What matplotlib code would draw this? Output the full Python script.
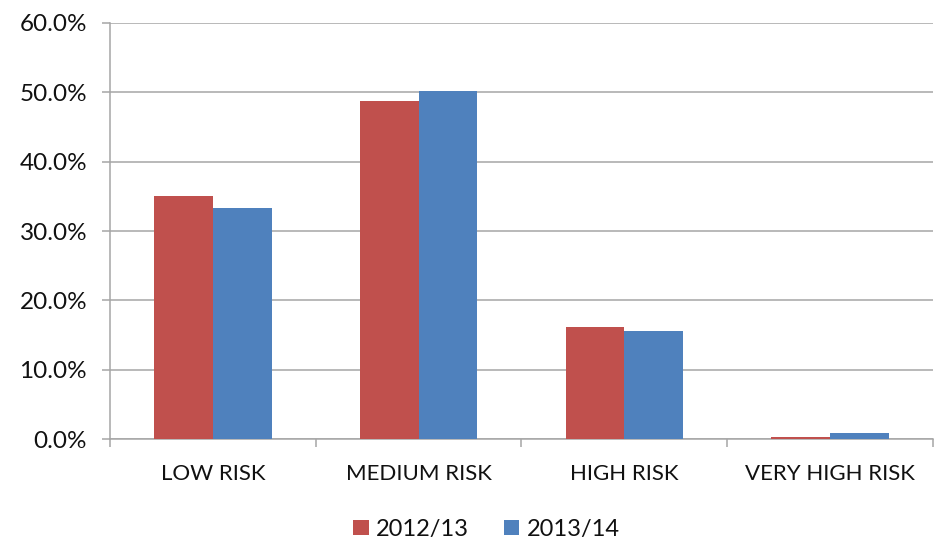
import numpy as np
import matplotlib
matplotlib.use("Agg")
import matplotlib.pyplot as plt
from matplotlib.ticker import FuncFormatter, FixedLocator

plt.rcParams['font.family'] = ['Lato', 'DejaVu Sans']

categories = ['LOW RISK', 'MEDIUM RISK', 'HIGH RISK', 'VERY HIGH RISK']
series_names = ['2012/13', '2013/14']
values_2012 = [35.0, 48.7, 16.1, 0.3]
values_2013 = [33.3, 50.2, 15.6, 0.9]

RED = '#C0504D'
BLUE = '#4F81BD'
GRID = '#A6A6A6'
TEXT = '#111111'

fig = plt.figure(figsize=(9.37, 5.41), dpi=100)
ax = fig.add_axes([0.1174, 0.1885, 0.8783, 0.769])

x = np.arange(len(categories))
width = 1 / 3.5  # two bars plus a 150% gap
ax.bar(x - width / 2, values_2012, width, color=RED, label=series_names[0], zorder=3)
ax.bar(x + width / 2, values_2013, width, color=BLUE, label=series_names[1], zorder=3)

ax.set_xlim(-0.5, len(categories) - 0.5)
ax.set_ylim(0, 60)
ax.set_yticks(np.arange(0, 61, 10))
ax.yaxis.set_major_formatter(FuncFormatter(lambda v, _: f'{v:.1f}%'))
ax.yaxis.grid(True, color=GRID, linewidth=1.1, zorder=0)

ax.set_xticks(x)
ax.set_xticklabels(categories)
ax.xaxis.set_minor_locator(FixedLocator(np.arange(-0.5, len(categories), 1.0)))
ax.tick_params(axis='x', which='major', length=0, pad=18, labelsize=16, labelcolor=TEXT)
ax.tick_params(axis='x', which='minor', length=6, width=1.1, color=GRID)
ax.tick_params(axis='y', length=5.5, width=1.1, color=GRID, pad=11, labelsize=17.5,
               labelcolor=TEXT)

for side in ('top', 'right'):
    ax.spines[side].set_visible(False)
for side in ('left', 'bottom'):
    ax.spines[side].set_color(GRID)
    ax.spines[side].set_linewidth(1.1)

fig.legend(loc='center', bbox_to_anchor=(0.519, 0.022), ncol=2, frameon=False,
           fontsize=17, handlelength=0.65, handleheight=0.6, handletextpad=0.3,
           columnspacing=1.5, labelcolor=TEXT)

fig.savefig('out.png', dpi=100)
